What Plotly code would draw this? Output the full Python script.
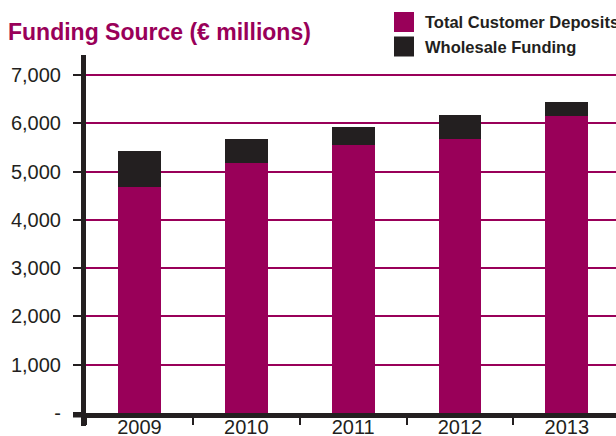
import plotly.graph_objects as go

# Funding mix by year (€ millions)
years = ["2009", "2010", "2011", "2012", "2013"]
customer_deposits = [4680, 5180, 5550, 5670, 6150]
wholesale_funding = [750, 500, 370, 500, 290]

y_tick_vals = [0, 1000, 2000, 3000, 4000, 5000, 6000, 7000]
y_tick_text = ["-", "1,000", "2,000", "3,000", "4,000", "5,000", "6,000", "7,000"]

MAGENTA = "#990059"
DARK = "#231f20"
FONT = "Liberation Sans, Arial, sans-serif"

W, H = 616, 436
L, R, T, B = 86, 0, 55, 23
PW, PH = W - L - R, H - T - B


def px_x(x):
    return (x - L) / PW


def px_y(y):
    return (H - B - y) / PH


fig = go.Figure()
fig.add_trace(go.Bar(x=years, y=customer_deposits, name="Total Customer Deposits",
                     marker=dict(color=MAGENTA, line=dict(width=0)), width=0.4,
                     showlegend=False))
fig.add_trace(go.Bar(x=years, y=wholesale_funding, name="Wholesale Funding",
                     marker=dict(color=DARK, line=dict(width=0)), width=0.4,
                     showlegend=False))

shapes = [
    # y axis continues below the baseline
    dict(type="line", xref="paper", yref="paper", x0=px_x(83.5), x1=px_x(83.5),
         y0=px_y(412), y1=px_y(426), line=dict(color=DARK, width=5)),
    # baseline stub left of the y axis
    dict(type="line", xref="paper", yref="paper", x0=px_x(73), x1=px_x(86),
         y0=px_y(415), y1=px_y(415), line=dict(color=DARK, width=5)),
]
annotations = []
legend_items = [("Total Customer Deposits", MAGENTA, 22), ("Wholesale Funding", DARK, 46.5)]
for label, color, cy in legend_items:
    shapes.append(dict(type="rect", xref="paper", yref="paper",
                       x0=px_x(394), x1=px_x(414), y0=px_y(cy - 10), y1=px_y(cy + 10),
                       fillcolor=color, line=dict(width=0)))
    annotations.append(dict(text=label, xref="paper", yref="paper", x=px_x(423), y=px_y(cy),
                            xanchor="left", yanchor="middle", showarrow=False,
                            font=dict(family=FONT, size=16.5, color=DARK, weight="bold")))

fig.update_layout(
    width=W, height=H,
    margin=dict(l=L, r=R, t=T, b=B, pad=0, autoexpand=False),
    paper_bgcolor="white", plot_bgcolor="white",
    barmode="stack",
    title=dict(text="Funding Source (€ millions)", xref="container", yref="container",
               x=8 / W, y=1 - 32 / H, xanchor="left", yanchor="middle",
               font=dict(family=FONT, size=23, color=MAGENTA, weight="bold")),
    font=dict(family=FONT, color=DARK),
    shapes=shapes,
    annotations=annotations,
    xaxis=dict(type="category", range=[-0.5, 4.46], showline=True, linewidth=5,
               linecolor=DARK, ticks="outside", tickson="boundaries", ticklen=7,
               tickwidth=2, tickcolor=DARK, showgrid=False, zeroline=False,
               automargin=False, ticklabelstandoff=-8,
               tickfont=dict(family=FONT, size=20, color=DARK), fixedrange=True),
    yaxis=dict(range=[0, 7414], tickvals=y_tick_vals, ticktext=y_tick_text,
               showline=True, linewidth=5, linecolor=DARK, ticks="outside",
               ticklen=8, tickwidth=2, tickcolor=DARK, showgrid=True,
               gridcolor=MAGENTA, gridwidth=1.5, zeroline=False,
               ticklabelstandoff=8, automargin=False,
               tickfont=dict(family=FONT, size=20, color=DARK), fixedrange=True),
)

fig.write_html("out.html")
